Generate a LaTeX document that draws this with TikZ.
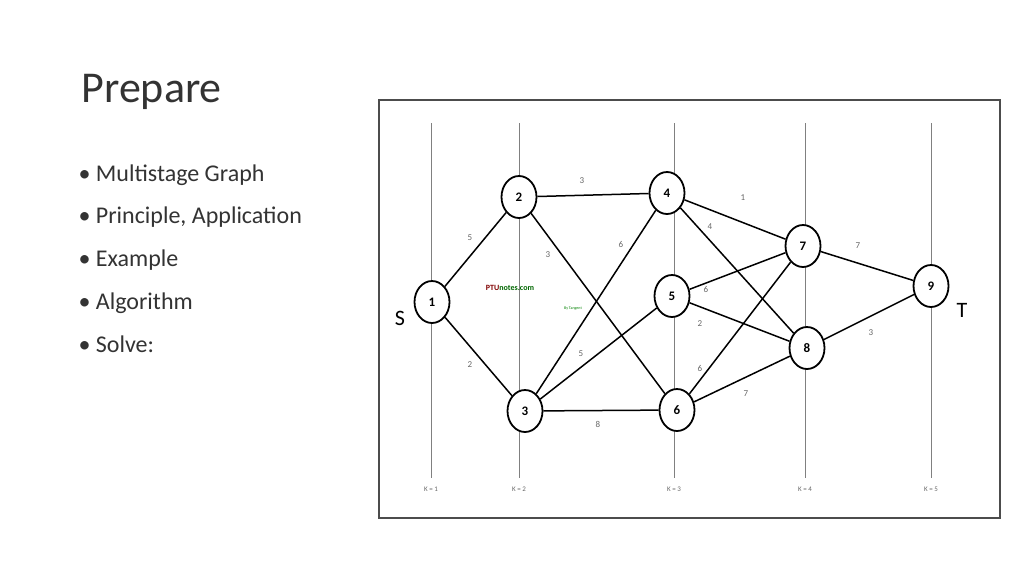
\documentclass[tikz,border=0pt]{standalone}
\usepackage{fontspec}
\setmainfont{Carlito}
\usetikzlibrary{positioning, shapes.geometric}
\tikzset{
  vert/.style={draw, ellipse, line width=1.8pt, minimum width=35pt, minimum height=42pt, inner sep=0pt, fill=white, font=\fontsize{13}{13}\selectfont\bfseries},
  wt/.style={font=\fontsize{9}{9}\selectfont, text=black!60},
  stage/.style={font=\fontsize{7}{7}\selectfont, text=black!60}
}
\begin{document}
\begin{tikzpicture}[x=1pt,y=-1pt]
  \useasboundingbox (0,0) rectangle (1024,576);
  \node[anchor=base west, font=\fontsize{44}{44}\selectfont, text=black!80] (title) at (78,102) {Prepare};
  \foreach \t [count=\i] in {Multistage Graph, {Principle, Application}, Example, Algorithm, Solve:} {
    \node[anchor=base west, font=\fontsize{24}{24}\selectfont, text=black!80] (b\i) at (75,181+42.8*\i-42.8) {\textbullet\ \t};
  }
  % frame and stage lines
  \draw[black!70, line width=1.2pt] (379,100) rectangle (1000,518);
  \foreach \x/\k in {431/1, 519/2, 674/3, 805/4, 931/5} {
    \draw[black!50] (\x,123) -- (\x,478);
    \node[stage] (k\k) at (\x,489) {K = \k};
  }
  % vertices
  \node[vert] (v1) at (432,302) {1};
  \node[vert] (v2) at (519,197) {2};
  \node[vert] (v3) at (525,411) {3};
  \node[vert] (v4) at (667,193) {4};
  \node[vert] (v5) at (672,296) {5};
  \node[vert] (v6) at (677,410) {6};
  \node[vert] (v7) at (803,246) {7};
  \node[vert] (v8) at (807,348) {8};
  \node[vert] (v9) at (931,286) {9};
  \node[font=\fontsize{22}{22}\selectfont] (s) at (400,318) {S};
  \node[font=\fontsize{22}{22}\selectfont] (t) at (962,310) {T};
  \node[font=\fontsize{8}{8}\selectfont\bfseries, text=red!50!black] (wm) at (510,288) {PTU\textcolor{green!40!black}{notes.com}};
  \node[font=\fontsize{4}{4}\selectfont, text=green!50!black] (wm2) at (573,309) {By Tangent};
  % edges
  \begin{scope}[line width=1.5pt]
    \draw (v1) -- (v2);
    \draw (v1) -- (v3);
    \draw (v2) -- (v4);
    \draw (v2) -- (v6);
    \draw (v3) -- (v4);
    \draw (v3) -- (v5);
    \draw (v3) -- (v6);
    \draw (v4) -- (v7);
    \draw (v4) -- (v8);
    \draw (v5) -- (v7);
    \draw (v5) -- (v8);
    \draw (v6) -- (v7);
    \draw (v6) -- (v8);
    \draw (v7) -- (v9);
    \draw (v8) -- (v9);
  \end{scope}
  % weights
  \node[wt] at (470,238) {5};
  \node[wt] at (470,365) {2};
  \node[wt] at (582,181) {3};
  \node[wt] at (548,255) {3};
  \node[wt] at (621,244) {6};
  \node[wt] at (581,354) {5};
  \node[wt] at (598,424) {8};
  \node[wt] at (743,198) {1};
  \node[wt] at (710,227) {4};
  \node[wt] at (706,289) {6};
  \node[wt] at (700,324) {2};
  \node[wt] at (700,368) {6};
  \node[wt] at (746,394) {7};
  \node[wt] at (858,246) {7};
  \node[wt] at (871,333) {3};
\end{tikzpicture}
\end{document}
